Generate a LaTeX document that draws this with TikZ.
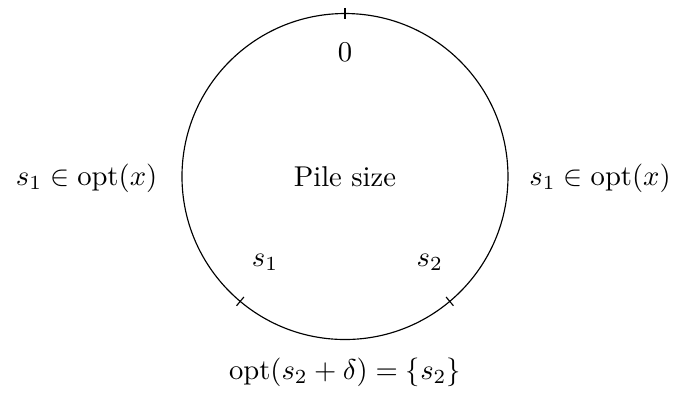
\documentclass[tikz,border=0pt]{standalone}
\usetikzlibrary{calc}
\begin{document}
\begin{tikzpicture}[lbl/.style={inner sep=1pt}]
\useasboundingbox (-4.233,-2.767) rectangle (4.123,2.166);
\node[circle,draw,minimum size=4cm,inner sep=0pt] (c) at (0,0) {};
\node[lbl] (pile) at (0,0) {Pile size};
\coordinate (t0) at (90:2);
\coordinate (t1) at (230:2);
\coordinate (t2) at (310:2);
\draw ($(t0)+(90:0.07)$) -- ($(t0)-(90:0.07)$);
\draw ($(t1)+(230:0.07)$) -- ($(t1)-(230:0.07)$);
\draw ($(t2)+(310:0.07)$) -- ($(t2)-(310:0.07)$);
\node[lbl] (zero) at (0,1.53) {$0$};
\node[lbl] (s1) at (-0.98,-1.05) {$s_1$};
\node[lbl] (s2) at (1.04,-1.05) {$s_2$};
\node[lbl] (left) at (-3.17,-0.02) {$s_1 \in \mathrm{opt}(x)$};
\node[lbl] (right) at (3.13,-0.02) {$s_1 \in \mathrm{opt}(x)$};
\node[lbl] (bot) at (0,-2.40) {$\mathrm{opt}(s_2+\delta)=\{s_2\}$};
\end{tikzpicture}
\end{document}
